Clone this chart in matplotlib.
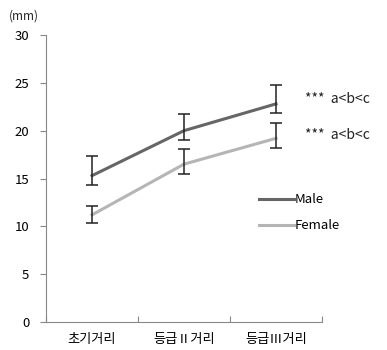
import matplotlib.pyplot as plt
import numpy as np

plt.rcParams['font.family'] = ['Noto Sans CJK KR', 'DejaVu Sans']

categories = ['초기거리', '등급Ⅱ거리', '등급Ⅲ거리']
male = [15.3, 20.0, 22.8]
male_lo = [1.0, 1.0, 1.0]
male_hi = [2.0, 1.7, 2.0]
female = [11.2, 16.5, 19.2]
female_lo = [0.9, 1.0, 1.0]
female_hi = [0.9, 1.6, 1.6]
sig_text = ['***  a<b<c', '***  a<b<c']

fig = plt.figure(figsize=(3.87, 3.5), dpi=100)
ax = fig.add_axes([0.119, 0.08, 0.713, 0.82])

x = np.arange(len(categories))
ax.plot(x, male, color='#666666', lw=2.2, label='Male')
ax.plot(x, female, color='#b5b5b5', lw=2.2, label='Female')
ax.errorbar(x, male, yerr=[male_lo, male_hi], fmt='none', ecolor='#222222',
            elinewidth=1.1, capsize=4, capthick=1.1)
ax.errorbar(x, female, yerr=[female_lo, female_hi], fmt='none', ecolor='#222222',
            elinewidth=1.1, capsize=4, capthick=1.1)

# significance notes beside the last point
ax.text(2.31, male[2] + 0.5, sig_text[0], fontsize=10, color='#222222', va='center',
        clip_on=False)
ax.text(2.31, female[2] + 0.3, sig_text[1], fontsize=10, color='#222222', va='center',
        clip_on=False)

ax.set_xlim(-0.5, 2.5)
ax.set_ylim(0, 30)
ax.set_yticks(range(0, 31, 5))
ax.set_xticks([-0.5, 0.5, 1.5, 2.5])
ax.set_xticklabels([])
ax.set_xticks(x, minor=True)
ax.set_xticklabels(categories, minor=True, fontsize=9.5)
ax.tick_params(axis='x', which='minor', length=0, pad=8)
ax.tick_params(axis='x', which='major', direction='in', length=4, color='#888888')
ax.tick_params(axis='y', direction='out', length=4, color='#888888', labelsize=9.5, pad=8)

for s in ['top', 'right']:
    ax.spines[s].set_visible(False)
for s in ['left', 'bottom']:
    ax.spines[s].set_color('#888888')

ax.text(-0.08, 1.045, '(mm)', transform=ax.transAxes, fontsize=8.5, ha='center',
        va='bottom', color='#222222')

ax.legend(loc='upper left', bbox_to_anchor=(0.73, 0.49), frameon=False, fontsize=9.5,
          handlelength=2.6, handletextpad=0.1, labelspacing=1.0)

fig.savefig('out.png', dpi=100)
